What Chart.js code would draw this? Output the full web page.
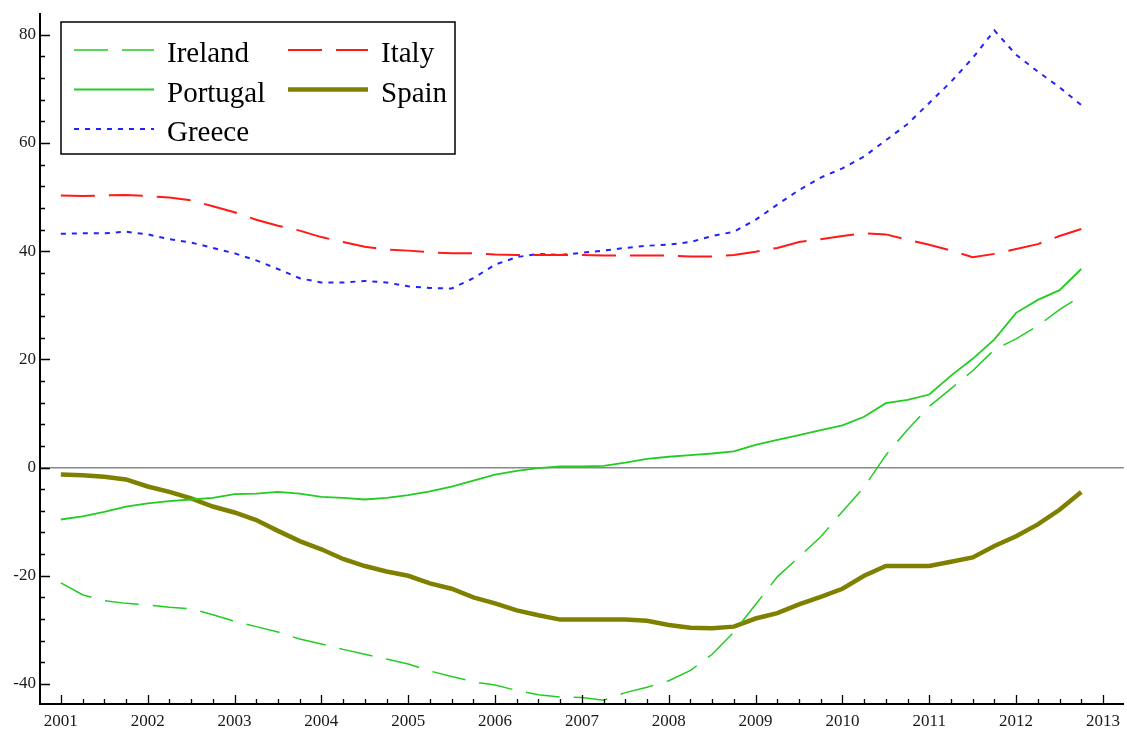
<!DOCTYPE html>
<html>
<head>
<meta charset="utf-8">
<script src="https://cdn.jsdelivr.net/npm/chart.js@4.4.1/dist/chart.umd.min.js"></script>
<style>
    html, body { margin: 0; padding: 0; background: #fff; }
    #wrap { width: 1127px; height: 737px; }
</style>
</head>
<body>
<div id="wrap"><canvas id="chart" width="1127" height="737"></canvas></div>
<script>
// quarterly observations, 2001Q1 .. 2012Q4
const quarters = [
    2001, 2001.25, 2001.5, 2001.75, 2002, 2002.25, 2002.5, 2002.75,
    2003, 2003.25, 2003.5, 2003.75, 2004, 2004.25, 2004.5, 2004.75,
    2005, 2005.25, 2005.5, 2005.75, 2006, 2006.25, 2006.5, 2006.75,
    2007, 2007.25, 2007.5, 2007.75, 2008, 2008.25, 2008.5, 2008.75,
    2009, 2009.25, 2009.5, 2009.75, 2010, 2010.25, 2010.5, 2010.75,
    2011, 2011.25, 2011.5, 2011.75, 2012, 2012.25, 2012.5, 2012.75
];

const ireland = [
    -21.3, -23.5, -24.6, -25.1, -25.4, -25.8, -26.1, -27.2,
    -28.4, -29.4, -30.4, -31.7, -32.6, -33.6, -34.5, -35.4,
    -36.3, -37.6, -38.6, -39.6, -40.2, -41.2, -42.0, -42.4,
    -42.5, -43.0, -41.6, -40.6, -39.4, -37.5, -34.5, -30.4,
    -25.3, -20.2, -16.5, -12.8, -8.1, -3.6, 2.3, 7.0,
    11.3, 14.6, 17.9, 21.8, 23.8, 26.2, 29.2, 31.7
];

const italy = [
    50.3, 50.2, 50.3, 50.4, 50.2, 49.9, 49.4, 48.3,
    47.2, 45.8, 44.7, 43.8, 42.6, 41.7, 40.8, 40.3,
    40.1, 39.8, 39.6, 39.6, 39.4, 39.3, 39.3, 39.3,
    39.3, 39.2, 39.2, 39.2, 39.2, 39.0, 39.0, 39.3,
    39.9, 40.6, 41.7, 42.2, 42.8, 43.3, 43.1, 42.1,
    41.2, 40.1, 38.9, 39.5, 40.4, 41.3, 42.8, 44.1
];

const portugal = [
    -9.6, -9.0, -8.2, -7.2, -6.6, -6.2, -5.9, -5.6,
    -4.9, -4.8, -4.5, -4.8, -5.4, -5.6, -5.9, -5.6,
    -5.1, -4.4, -3.5, -2.4, -1.3, -0.6, -0.1, 0.2,
    0.2, 0.3, 0.9, 1.6, 2.0, 2.3, 2.6, 3.0,
    4.2, 5.1, 6.0, 6.9, 7.8, 9.4, 11.9, 12.5,
    13.5, 17.0, 20.1, 23.7, 28.6, 31.0, 32.8, 36.7
];

const spain = [
    -1.3, -1.4, -1.7, -2.2, -3.5, -4.5, -5.7, -7.2,
    -8.3, -9.7, -11.7, -13.6, -15.1, -16.9, -18.2, -19.2,
    -20.0, -21.4, -22.4, -24.0, -25.1, -26.4, -27.3, -28.1,
    -28.1, -28.1, -28.1, -28.3, -29.1, -29.6, -29.7, -29.4,
    -27.9, -26.9, -25.3, -23.9, -22.4, -20.0, -18.2, -18.2,
    -18.2, -17.4, -16.6, -14.5, -12.7, -10.5, -7.8, -4.5
];

const greece = [
    43.2, 43.3, 43.3, 43.6, 43.1, 42.2, 41.6, 40.6,
    39.6, 38.3, 36.7, 35.0, 34.2, 34.2, 34.5, 34.2,
    33.5, 33.2, 33.1, 35.0, 37.5, 38.9, 39.5, 39.3,
    39.7, 40.1, 40.6, 41.0, 41.2, 41.7, 42.8, 43.6,
    45.8, 48.6, 51.3, 53.6, 55.3, 57.5, 60.5, 63.5,
    67.4, 71.3, 75.7, 80.8, 76.3, 73.2, 70.3, 67.0
];

const yearTicks = [2001, 2002, 2003, 2004, 2005, 2006, 2007, 2008, 2009, 2010, 2011, 2012, 2013];
const valueTicks = [-40, -20, 0, 20, 40, 60, 80];

const SERIF = "'Liberation Serif', 'Times New Roman', serif";

const pts = arr => arr.map((v, i) => ({ x: quarters[i], y: v }));

// Mathematica-style inward ticks (major + minor)
const inwardTicks = {
    id: 'inwardTicks',
    afterDraw(chart) {
        const { ctx, chartArea: a, scales: { x, y } } = chart;
        ctx.save();
        ctx.strokeStyle = '#000';
        ctx.lineWidth = 1.3;
        ctx.beginPath();
        for (let v = Math.ceil(x.min * 4) / 4; v <= x.max; v += 0.25) {
            const px = Math.round(x.getPixelForValue(v)) + 0.5;
            const major = Math.abs(v - Math.round(v)) < 1e-6;
            ctx.moveTo(px, a.bottom);
            ctx.lineTo(px, a.bottom - (major ? 9 : 5));
        }
        for (let v = Math.ceil(y.min / 4) * 4; v <= y.max; v += 4) {
            const py = Math.round(y.getPixelForValue(v)) + 0.5;
            const major = v % 20 === 0;
            ctx.moveTo(a.left, py);
            ctx.lineTo(a.left + (major ? 10 : 5), py);
        }
        ctx.stroke();
        ctx.restore();
    }
};

// boxed legend, two columns
const boxLegend = {
    id: 'boxLegend',
    afterDraw(chart) {
        const ctx = chart.ctx;
        const box = { x: 61, y: 22, w: 394, h: 132 };
        ctx.save();
        ctx.fillStyle = '#fff';
        ctx.fillRect(box.x, box.y, box.w, box.h);
        ctx.strokeStyle = '#000';
        ctx.lineWidth = 1.5;
        ctx.strokeRect(box.x, box.y, box.w, box.h);

        ctx.font = '29px ' + SERIF;
        ctx.textBaseline = 'alphabetic';
        ctx.fillStyle = '#000';
        chart.data.datasets.forEach((ds, i) => {
            const col = i % 2, row = Math.floor(i / 2);
            const sx = 74 + col * 214;
            const ly = 50 + row * 39.5;
            ctx.beginPath();
            ctx.strokeStyle = ds.borderColor;
            ctx.lineWidth = ds.borderWidth;
            ctx.setLineDash(ds.borderDash || []);
            ctx.moveTo(sx, ly);
            ctx.lineTo(sx + 80, ly);
            ctx.stroke();
            ctx.setLineDash([]);
            ctx.fillText(ds.label, sx + 93, ly + 12);
        });
        ctx.restore();
    }
};

new Chart(document.getElementById('chart'), {
    type: 'line',
    data: {
        datasets: [
            { label: 'Ireland', data: pts(ireland), borderColor: '#22cc22', borderWidth: 1.5, borderDash: [34, 14] },
            { label: 'Italy', data: pts(italy), borderColor: '#ff1a1a', borderWidth: 2, borderDash: [34, 14] },
            { label: 'Portugal', data: pts(portugal), borderColor: '#22cc22', borderWidth: 1.8 },
            { label: 'Spain', data: pts(spain), borderColor: '#808000', borderWidth: 4.5 },
            { label: 'Greece', data: pts(greece), borderColor: '#2222ff', borderWidth: 2, borderDash: [5, 6] }
        ]
    },
    options: {
        responsive: false,
        animation: false,
        devicePixelRatio: 1,
        layout: { padding: { top: 9, right: 2, left: 0, bottom: 0 } },
        elements: { point: { radius: 0 }, line: { tension: 0, fill: false } },
        plugins: { legend: { display: false }, tooltip: { enabled: false } },
        scales: {
            x: {
                type: 'linear',
                min: 2000.76,
                max: 2013.24,
                afterBuildTicks: s => { s.ticks = yearTicks.map(v => ({ value: v })); },
                afterFit: s => { s.height = 33; },
                grid: { display: false, drawTicks: false },
                border: { display: true, color: '#000', width: 2 },
                ticks: {
                    autoSkip: false, maxRotation: 0, padding: 7, color: '#1a1a1a',
                    font: { family: SERIF, size: 17 },
                    callback: v => String(v)
                }
            },
            y: {
                min: -43.7,
                max: 83.8,
                afterBuildTicks: s => { s.ticks = valueTicks.map(v => ({ value: v })); },
                afterFit: s => { s.width = 40; },
                grid: {
                    drawTicks: false,
                    color: c => (c.tick && c.tick.value === 0) ? '#8a8a8a' : 'rgba(0,0,0,0)',
                    lineWidth: 1.5
                },
                border: { display: true, color: '#000', width: 2 },
                ticks: {
                    padding: 4, color: '#1a1a1a',
                    font: { family: SERIF, size: 17 },
                    callback: v => String(v)
                }
            }
        }
    },
    plugins: [inwardTicks, boxLegend]
});
</script>
</body>
</html>
